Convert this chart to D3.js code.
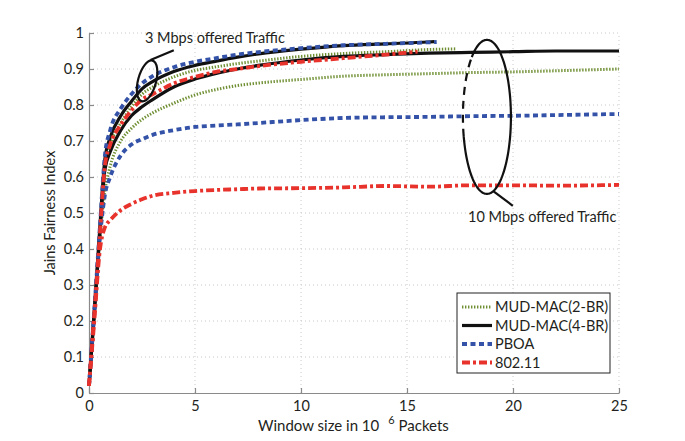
<!DOCTYPE html>
<html><head><meta charset="utf-8">
<script src="https://cdn.jsdelivr.net/npm/d3@7"></script>
<style>
body{margin:0;background:#fff;}
svg text{font-family:Lato,"Noto Sans",sans-serif;fill:#231f20;}
</style></head>
<body><svg id="c" width="685" height="441"></svg>
<script>
// ---- data ----
const xTicks = [0,5,10,15,20,25];
const yTicks = [0,0.1,0.2,0.3,0.4,0.5,0.6,0.7,0.8,0.9,1];
const seriesNames = ["MUD-MAC(2-BR)","MUD-MAC(4-BR)","PBOA","802.11"];

// 3 Mbps offered traffic
const x2BR3 = [0,0.25,0.5,0.75,1,1.5,2,2.5,3,4,5,6,7,8,10,12,14,16,17.3];
const y2BR3 = [0.02,0.22,0.43,0.63,0.69,0.75,0.795,0.83,0.85,0.878,0.896,0.906,0.915,0.922,0.935,0.943,0.948,0.954,0.956];
const x4BR3 = [0,0.25,0.5,0.75,1,1.5,2,2.5,3,4,5,6,7,8,10,12,14,16,16.3];
const y4BR3 = [0.02,0.23,0.45,0.65,0.71,0.77,0.81,0.845,0.865,0.893,0.91,0.922,0.933,0.942,0.955,0.965,0.97,0.975,0.976];
const xPB3 = [0,0.25,0.5,0.75,1,1.5,2,2.5,3,4,5,6,7,8,10,12,14,16,16.4];
const yPB3 = [0.02,0.23,0.45,0.66,0.73,0.79,0.83,0.86,0.88,0.905,0.92,0.93,0.94,0.947,0.958,0.966,0.97,0.974,0.975];
const x80213 = [0,0.25,0.5,0.75,1,1.5,2,2.5,3,4,5,6,7,8,10,12,14,15.5];
const y80213 = [0.02,0.22,0.43,0.63,0.69,0.745,0.785,0.815,0.83,0.86,0.878,0.892,0.9,0.908,0.92,0.93,0.94,0.948];

// 10 Mbps offered traffic
const x2BR10 = [0,0.25,0.5,0.75,1,1.5,2,2.5,3,4,5,6,7,8,10,12,14,16,18,20,22,25];
const y2BR10 = [0.02,0.22,0.42,0.56,0.63,0.70,0.735,0.76,0.778,0.805,0.828,0.843,0.854,0.861,0.871,0.88,0.884,0.887,0.89,0.892,0.895,0.9];
const x4BR10 = [0,0.25,0.5,0.75,1,1.5,2,2.5,3,4,5,6,7,8,10,12,14,16,18,20,22,25];
const y4BR10 = [0.02,0.22,0.43,0.62,0.67,0.73,0.77,0.795,0.815,0.85,0.872,0.888,0.9,0.91,0.925,0.935,0.94,0.944,0.946,0.948,0.95,0.95];
const xPB10 = [0,0.25,0.5,0.75,1,1.5,2,2.5,3,4,5,6,7,8,10,12,14,16,18,20,22,25];
const yPB10 = [0.02,0.22,0.42,0.55,0.60,0.66,0.69,0.705,0.717,0.73,0.739,0.743,0.746,0.75,0.758,0.764,0.766,0.767,0.769,0.77,0.772,0.775];
const x802110 = [0,0.25,0.5,0.75,1,1.5,2,2.5,3,4,5,6,7,8,10,12,14,16,18,20,22,25];
const y802110 = [0.02,0.2,0.39,0.46,0.48,0.508,0.525,0.538,0.548,0.556,0.561,0.564,0.566,0.568,0.569,0.571,0.575,0.573,0.577,0.577,0.576,0.578];

// ---- chart ----
const svg = d3.select("#c");
const x = d3.scaleLinear().domain([0,25]).range([89,619]);
const y = d3.scaleLinear().domain([0,1]).range([393,33]);

const styles = [
  {color:"#6f8f32", width:3, dash:"1.4,1.6"},
  {color:"#111111", width:3.2, dash:null},
  {color:"#3352a8", width:3.8, dash:"5,3.5"},
  {color:"#e8322c", width:3.8, dash:"8,3,3,3"}
];

// grid
const g = svg.append("g");
g.selectAll(".gx").data(xTicks.slice(1)).enter().append("line")
  .attr("x1",d=>x(d)).attr("x2",d=>x(d)).attr("y1",y(0)).attr("y2",y(1))
  .attr("stroke","#bdbdbd").attr("stroke-width",0.8).attr("stroke-dasharray","1,3");
g.selectAll(".gy").data(yTicks.slice(1)).enter().append("line")
  .attr("x1",x(0)).attr("x2",x(25)).attr("y1",d=>y(d)).attr("y2",d=>y(d))
  .attr("stroke","#bdbdbd").attr("stroke-width",0.8).attr("stroke-dasharray","1,3");

// axes
const xa = svg.append("g").attr("transform",`translate(0,${y(0)})`)
  .call(d3.axisBottom(x).tickValues(xTicks).tickSize(-5).tickPadding(8).tickSizeOuter(0));
const ya = svg.append("g").attr("transform",`translate(${x(0)},0)`)
  .call(d3.axisLeft(y).tickValues(yTicks).tickSize(-5).tickPadding(5).tickSizeOuter(0).tickFormat(d3.format("~g")));
[xa,ya].forEach(a=>{
  a.selectAll("path,line").attr("stroke","#8a8a8a").attr("stroke-width",1.2);
  a.selectAll("text").attr("font-size",14.5).attr("fill","#231f20").style("font-family","Lato, sans-serif");
});
xa.selectAll("text").attr("dy","0.71em");

// lines
const line = d3.line().x(d=>x(d[0])).y(d=>y(d[1])).curve(d3.curveMonotoneX);
const zip = (xs,ys)=>xs.map((v,i)=>[v,ys[i]]);
const data = [
  [zip(x2BR3,y2BR3), zip(x2BR10,y2BR10)],
  [zip(x4BR3,y4BR3), zip(x4BR10,y4BR10)],
  [zip(xPB3,yPB3), zip(xPB10,yPB10)],
  [zip(x80213,y80213), zip(x802110,y802110)]
];
data.forEach((pair,i)=>{
  pair.forEach(pts=>{
    svg.append("path").attr("d",line(pts)).attr("fill","none")
      .attr("stroke",styles[i].color).attr("stroke-width",styles[i].width)
      .attr("stroke-dasharray",styles[i].dash);
  });
});

// annotations
const ann = svg.append("g").attr("fill","none").attr("stroke","#111").attr("stroke-width",2.2);
// small ellipse (3 Mbps)
ann.append("ellipse").attr("cx",x(2.74)).attr("cy",y(0.867)).attr("rx",9).attr("ry",21)
  .attr("transform",`rotate(15,${x(2.74)},${y(0.867)})`);
ann.append("line").attr("x1",x(2.9)).attr("y1",y(0.925)).attr("x2",x(4.0)).attr("y2",y(0.952));
svg.append("text").attr("x",x(2.64)).attr("y",y(0.972)).attr("font-size",14.5).text("3 Mbps offered Traffic");

// big ellipse (10 Mbps)
const cx = x(18.77), cy = y(0.767), rx = 24, ry = 77;
const ell = d3.line();
const arc = (a0,a1)=>d3.range(a0,a1+0.5,2).map(a=>{const t=a*Math.PI/180;return [cx+rx*Math.cos(t), cy+ry*Math.sin(t)];});
ann.append("path").attr("d",ell(arc(231,525)));
ann.append("path").attr("d",ell(arc(165,231))).attr("stroke-dasharray","8,6");
ann.append("line").attr("x1",cx+6).attr("y1",cy+ry-3).attr("x2",x(19.99)).attr("y2",y(0.52));
svg.append("text").attr("x",x(17.88)).attr("y",y(0.475)).attr("font-size",14.5).text("10 Mbps offered Traffic");

// axis titles
const xt = svg.append("text").attr("x",258).attr("y",431).attr("font-size",15);
xt.append("tspan").text("Window size in 10");
xt.append("tspan").attr("dx",9).attr("dy",-7).attr("font-size",11).text("6");
xt.append("tspan").attr("dy",7).text(" Packets");
svg.append("text").attr("transform",`translate(55,${y(0.5)}) rotate(-90)`).attr("text-anchor","middle")
  .attr("font-size",14.5).text("Jains Fairness Index");

// legend
const lg = svg.append("g").attr("transform","translate(457,293)");
lg.append("rect").attr("width",153).attr("height",80).attr("fill","#fff").attr("stroke","#222").attr("stroke-width",1);
seriesNames.forEach((n,i)=>{
  const yy = 14 + i*18.5;
  lg.append("line").attr("x1",5).attr("x2",35).attr("y1",yy).attr("y2",yy)
    .attr("stroke",styles[i].color).attr("stroke-width",styles[i].width).attr("stroke-dasharray",styles[i].dash);
  lg.append("text").attr("x",38).attr("y",yy+5).attr("font-size",14.5).text(n);
});
</script></body></html>
